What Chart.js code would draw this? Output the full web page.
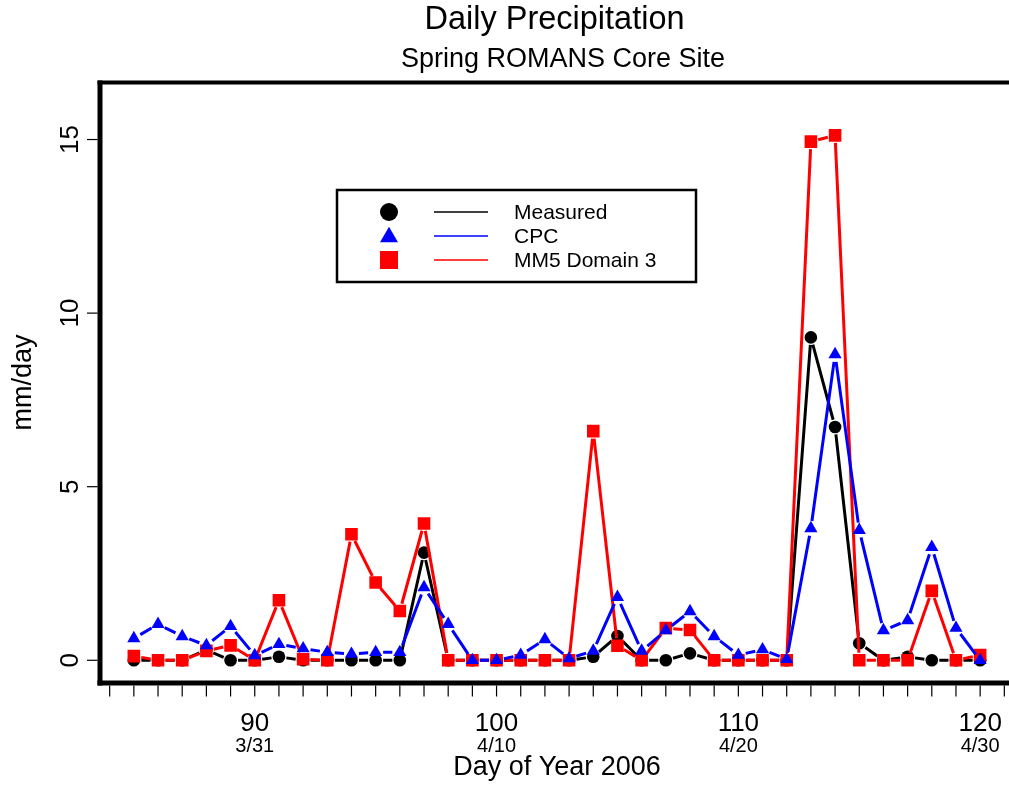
<!DOCTYPE html>
<html><head><meta charset="utf-8">
<script src="https://cdn.jsdelivr.net/npm/chart.js@4.4.1/dist/chart.umd.min.js"></script>
<style>html,body{margin:0;padding:0;background:#fff;overflow:hidden}
#wrap{width:1009px;height:786px;position:relative}</style>
</head><body>
<div id="wrap"><canvas id="c" width="1009" height="786"></canvas></div>
<script>
// ---- data ----
const days = [85,86,87,88,89,90,91,92,93,94,95,96,97,98,99,100,101,102,103,104,105,106,107,108,109,110,111,112,113,114,115,116,117,118,119,120];
const measured = [0,0,0,0.3,0,0,0.1,0,0,0,0,0,3.1,0,0,0,0,0,0,0.1,0.7,0,0,0.2,0,0,0,0,9.3,6.72,0.49,0,0.1,0,0,0];
const cpc = [0.63,1.04,0.69,0.43,0.98,0.14,0.46,0.34,0.23,0.18,0.23,0.23,2.1,1.04,0,0,0.15,0.6,0.05,0.27,1.82,0.27,0.86,1.41,0.69,0.15,0.31,0.03,3.8,8.81,3.75,0.86,1.15,3.26,0.93,0];
const mm5 = [0.12,0,0,0.27,0.43,0,1.73,0.03,0,3.63,2.24,1.42,3.94,0,0,0,0,0,0,6.6,0.42,0,0.93,0.87,0,0,0,0,14.94,15.12,0,0,0,2.0,0,0.15];
const seriesLabels = ['Measured','CPC','MM5 Domain 3'];
const xTickDays = [90,100,110,120];
const xTickLabels = ['90','100','110','120'];
const xTickDates = ['3/31','4/10','4/20','4/30'];
const yTicks = [0,5,10,15];
const titleText = 'Daily Precipitation';
const subtitleText = 'Spring ROMANS Core Site';
const xTitle = 'Day of Year 2006';
const yTitle = 'mm/day';

const FONT = '"Liberation Sans", Arial, Helvetica, sans-serif';
Chart.defaults.font.family = FONT;

function pts(vals){ return days.map((d,i)=>({x:d,y:vals[i]})); }

const gapLines = {
  id:'gapLines',
  beforeDatasetDraw(chart, args){
    const ds = chart.data.datasets[args.index];
    const p = args.meta.data;
    const ctx = chart.ctx, a = chart.chartArea, gap = 7.5;
    ctx.save();
    ctx.beginPath(); ctx.rect(a.left, a.top, a.right-a.left, a.bottom-a.top); ctx.clip();
    ctx.strokeStyle = ds.borderColor; ctx.lineWidth = ds.borderWidth; ctx.lineCap = 'butt';
    ctx.beginPath();
    for (let i=0;i<p.length-1;i++){
      const A=p[i], B=p[i+1];
      const dx=B.x-A.x, dy=B.y-A.y, len=Math.hypot(dx,dy);
      if (len <= 2*gap) continue;
      const ux=dx/len, uy=dy/len;
      ctx.moveTo(A.x+ux*gap, A.y+uy*gap);
      ctx.lineTo(B.x-ux*gap, B.y-uy*gap);
    }
    ctx.stroke();
    ctx.restore();
  }
};

function drawMarker(ctx, style, x, y, s, color){
  ctx.fillStyle = color;
  ctx.beginPath();
  if (style==='circle'){ ctx.arc(x,y,s/2,0,Math.PI*2); }
  else if (style==='rect'){ ctx.rect(x-s/2,y-s/2,s,s); }
  else { const h=s*0.866; ctx.moveTo(x,y-h*0.6); ctx.lineTo(x+s/2,y+h*0.4); ctx.lineTo(x-s/2,y+h*0.4); ctx.closePath(); }
  ctx.fill();
}

const frameAxes = {
  id:'frameAxes',
  afterDatasetsDraw(chart){
    const ctx = chart.ctx, a = chart.chartArea, xs = chart.scales.x, ys = chart.scales.y;
    ctx.save();
    ctx.strokeStyle = '#000'; ctx.fillStyle = '#000';
    // subtitle (second title line)
    ctx.font = '27px '+FONT; ctx.textAlign='center'; ctx.textBaseline='alphabetic';
    ctx.fillText(subtitleText, 563, 67);
    // frame
    ctx.lineWidth = 4;
    ctx.beginPath(); ctx.moveTo(a.left-2.5, a.top); ctx.lineTo(chart.width, a.top); ctx.stroke();
    ctx.lineWidth = 5;
    ctx.beginPath(); ctx.moveTo(a.left, a.top-2); ctx.lineTo(a.left, a.bottom+3); ctx.stroke();
    ctx.beginPath(); ctx.moveTo(a.left-2.5, a.bottom+0.5); ctx.lineTo(chart.width, a.bottom+0.5); ctx.stroke();
    // y ticks
    ctx.lineWidth = 1.2;
    yTicks.forEach(v=>{
      const y = ys.getPixelForValue(v);
      ctx.beginPath(); ctx.moveTo(a.left-13, y); ctx.lineTo(a.left-2.5, y); ctx.stroke();
      ctx.save(); ctx.translate(78, y); ctx.rotate(-Math.PI/2);
      ctx.font = '26px '+FONT; ctx.textAlign='center'; ctx.textBaseline='alphabetic';
      ctx.fillText(String(v), 0, 0); ctx.restore();
    });
    // x minor ticks every day
    for (let d=Math.ceil(xs.min); d<=Math.floor(xs.max); d++){
      const x = xs.getPixelForValue(d);
      ctx.beginPath(); ctx.moveTo(x, a.bottom+3); ctx.lineTo(x, a.bottom+14); ctx.stroke();
    }
    xTickDays.forEach((d,i)=>{
      const x = xs.getPixelForValue(d);
      ctx.textAlign='center'; ctx.textBaseline='alphabetic';
      ctx.font = '26px '+FONT; ctx.fillText(xTickLabels[i], x, 731);
      ctx.font = '20px '+FONT; ctx.fillText(xTickDates[i], x, 752);
    });
    // axis titles
    const cx = xs.getPixelForValue(102.5);
    ctx.font = '27px '+FONT; ctx.textAlign='center'; ctx.textBaseline='alphabetic';
    ctx.fillText(xTitle, cx, 775);
    ctx.save(); ctx.translate(31, (a.top+a.bottom)/2); ctx.rotate(-Math.PI/2);
    ctx.fillText(yTitle, 0, 0); ctx.restore();
    // legend
    const L = {x1:337, y1:190, x2:696, y2:282};
    ctx.fillStyle = '#fff'; ctx.fillRect(L.x1, L.y1, L.x2-L.x1, L.y2-L.y1);
    ctx.lineWidth = 2.5; ctx.strokeStyle = '#000';
    ctx.strokeRect(L.x1, L.y1, L.x2-L.x1, L.y2-L.y1);
    const order = [0,1,2];
    order.forEach((di,row)=>{
      const ds = chart.data.datasets[di];
      const y = 212 + row*24;
      drawMarker(ctx, ds.pointStyle, 389, y, 18, ds.pointBackgroundColor);
      ctx.strokeStyle = ds.borderColor; ctx.lineWidth = 1.5;
      ctx.beginPath(); ctx.moveTo(434, y); ctx.lineTo(488, y); ctx.stroke();
      ctx.fillStyle = '#000'; ctx.font = '21px '+FONT; ctx.textAlign='left'; ctx.textBaseline='middle';
      ctx.fillText(ds.label, 514, y+1);
    });
    ctx.restore();
  }
};

new Chart(document.getElementById('c'), {
  type:'line',
  data:{ datasets:[
    {label:seriesLabels[0], data:pts(measured), order:3, showLine:false, borderColor:'#000000', borderWidth:3,
     pointStyle:'circle', pointRadius:6.3, pointBackgroundColor:'#000000', pointBorderWidth:0, pointHoverRadius:6.3},
    {label:seriesLabels[1], data:pts(cpc), order:1, showLine:false, borderColor:'#0000ff', borderWidth:3,
     pointStyle:'triangle', pointRadius:7.6, pointBackgroundColor:'#0000ff', pointBorderWidth:0, pointHoverRadius:7.6},
    {label:seriesLabels[2], data:pts(mm5), order:2, showLine:false, borderColor:'#ff0000', borderWidth:3,
     pointStyle:'rect', pointRadius:8.9, pointBackgroundColor:'#ff0000', pointBorderWidth:0, pointHoverRadius:8.9}
  ]},
  options:{
    responsive:false, animation:false, devicePixelRatio:1,
    layout:{autoPadding:false, padding:{left:100, right:0, top:0, bottom:103.5}},
    scales:{
      x:{type:'linear', display:false, min:83.6, max:83.6+909/24.18},
      y:{type:'linear', display:false, min:-0.64, max:16.64}
    },
    plugins:{
      legend:{display:false}, tooltip:{enabled:false},
      title:{display:true, text:titleText, color:'#000', font:{size:32.5, weight:'normal', family:FONT, lineHeight:1.2}, padding:{top:1,bottom:42.6}},
      subtitle:{display:false}
    }
  },
  plugins:[gapLines, frameAxes]
});
</script>
</body></html>
